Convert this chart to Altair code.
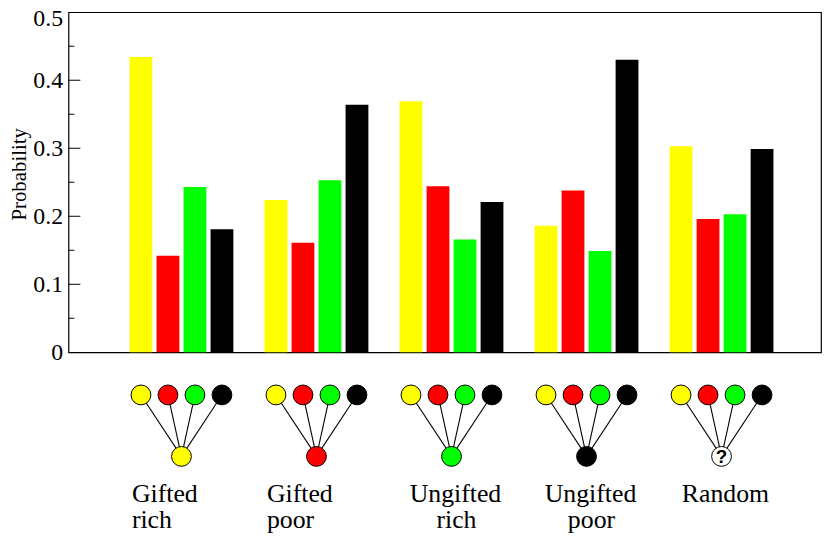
import altair as alt
import pandas as pd

# ---- data ----
groups = ["Gifted rich", "Gifted poor", "Ungifted rich", "Ungifted poor", "Random"]
series = ["yellow", "red", "green", "black"]
yellow_vals = [0.434, 0.224, 0.369, 0.186, 0.303]
red_vals = [0.142, 0.161, 0.244, 0.238, 0.196]
green_vals = [0.243, 0.253, 0.166, 0.149, 0.203]
black_vals = [0.181, 0.364, 0.221, 0.430, 0.299]
outcome = ["yellow", "red", "green", "black", "unknown"]
label_line1 = ["Gifted", "Gifted", "Ungifted", "Ungifted", "Random"]
label_line2 = ["rich", "poor", "rich", "poor", ""]
major_ticks = [0, 0.1, 0.2, 0.3, 0.4, 0.5]
minor_ticks = [0.05, 0.15, 0.25, 0.35, 0.45]

color_domain = ["yellow", "red", "green", "black", "unknown"]
color_range = ["#ffff00", "#ff0000", "#00ff00", "#000000", "#ffffff"]

# ---- tables ----
vals = {"yellow": yellow_vals, "red": red_vals, "green": green_vals, "black": black_vals}
bar_rows = []
for g, name in enumerate(groups):
    for i, s in enumerate(series):
        bar_rows.append({
            "group": name, "gi": g, "series": s, "value": vals[s][g],
            "pos": 5 * g + 1 + i, "center": 5 * g + 2.5, "r0": 0, "r1": 1,
        })
bars_df = pd.DataFrame(bar_rows)

node_df = pd.DataFrame({
    "group": groups,
    "gi": list(range(len(groups))),
    "center": [5 * g + 2.5 for g in range(len(groups))],
    "outcome": outcome,
    "row": [1] * len(groups),
    "line1": label_line1,
    "line2": label_line2,
    "q": ["?" if o == "unknown" else "" for o in outcome],
})

x_scale = alt.Scale(domain=[-1.5, 26], nice=False, zero=False)
y_scale = alt.Scale(domain=[0, 0.5], nice=False, zero=True)
row_scale = alt.Scale(domain=[0, 1], range=[386, 448], nice=False, zero=False)
fill_scale = alt.Scale(domain=color_domain, range=color_range)

serif = "Liberation Serif"

bars = alt.Chart(bars_df).mark_bar(size=23).encode(
    x=alt.X("pos:Q", scale=x_scale, axis=None),
    y=alt.Y("value:Q", scale=y_scale, axis=alt.Axis(
        values=major_ticks, format=".1~f", grid=False, domain=False,
        ticks=False, tickSize=0, labelPadding=6, labelFont=serif,
        labelFontSize=24, labelColor="black", labelFlush=False,
        labelFontWeight="normal",
        labelOffset={"condition": {"test": "datum.value == 0.5", "value": 6}, "value": 0},
        title="Probability", titleFont=serif, titleFontSize=21,
        titleFontWeight="normal", titleColor="black", titleAngle=270,
        titleBaseline="alphabetic", titleAlign="center",
        titleX=-43, titleY=163,
    )),
    color=alt.Color("series:N", scale=fill_scale, legend=None),
)

major = alt.Chart(pd.DataFrame({"t": major_ticks[1:-1]})).mark_rule(
    color="black", strokeWidth=1).encode(
    x=alt.value(0), x2=alt.value(12),
    y=alt.Y("t:Q", scale=y_scale, axis=None),
)
minor = alt.Chart(pd.DataFrame({"t": minor_ticks})).mark_rule(
    color="black", strokeWidth=1).encode(
    x=alt.value(0), x2=alt.value(6),
    y=alt.Y("t:Q", scale=y_scale, axis=None),
)

links = alt.Chart(bars_df).mark_rule(color="black", strokeWidth=1.1).encode(
    x=alt.X("pos:Q", scale=x_scale, axis=None),
    x2="center:Q",
    y=alt.Y("r0:Q", scale=row_scale, axis=None),
    y2="r1:Q",
)

top_nodes = alt.Chart(bars_df).mark_circle(
    size=400, stroke="black", strokeWidth=1, opacity=1).encode(
    x=alt.X("pos:Q", scale=x_scale, axis=None),
    y=alt.Y("r0:Q", scale=row_scale, axis=None),
    fill=alt.Fill("series:N", scale=fill_scale, legend=None),
)

bottom_nodes = alt.Chart(node_df).mark_circle(
    size=400, stroke="black", strokeWidth=1, opacity=1).encode(
    x=alt.X("center:Q", scale=x_scale, axis=None),
    y=alt.Y("row:Q", scale=row_scale, axis=None),
    fill=alt.Fill("outcome:N", scale=fill_scale, legend=None),
)

qmark = alt.Chart(node_df).mark_text(
    font="Liberation Sans", fontWeight="bold",
    fontSize=19, baseline="middle", align="center", color="black", dy=1).encode(
    x=alt.X("center:Q", scale=x_scale, axis=None),
    y=alt.Y("row:Q", scale=row_scale, axis=None),
    text="q:N",
)


def label_layer(field, filt, align, dx, dy):
    return alt.Chart(node_df).transform_filter(filt).mark_text(
        font=serif, fontSize=26, fontWeight="normal", align=align,
        baseline="alphabetic", dx=dx, dy=dy, color="black").encode(
        x=alt.X("center:Q", scale=x_scale, axis=None),
        y=alt.Y("row:Q", scale=row_scale, axis=None),
        text=f"{field}:N",
    )


labels = [
    label_layer("line1", "datum.gi < 2", "left", -50, 46),
    label_layer("line2", "datum.gi < 2", "left", -50, 72),
    label_layer("line1", "datum.gi >= 2", "center", 4, 46),
    label_layer("line2", "datum.gi >= 2", "center", 5, 72),
]

chart = alt.layer(
    bars, major, minor, links, top_nodes, bottom_nodes, qmark, *labels,
).resolve_scale(y="independent").properties(
    width=759, height=343,
    autosize=alt.AutoSizeParams(type="none"),
    padding={"left": 61, "top": 2, "right": 1, "bottom": 180},
    background="white",
).configure_view(stroke="black", strokeWidth=1.2)

chart.save("out.html", embed_options={"renderer": "svg", "actions": False})
